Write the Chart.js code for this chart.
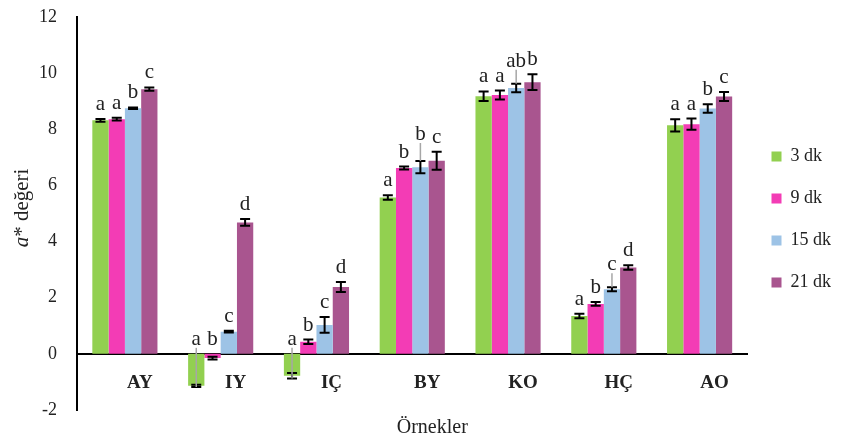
<!DOCTYPE html>
<html>
<head>
<meta charset="utf-8">
<script src="https://cdn.jsdelivr.net/npm/chart.js@4.4.1/dist/chart.umd.min.js"></script>
<style>
  html, body { margin: 0; padding: 0; background: #fff; }
  #wrap { width: 843px; height: 442px; }
</style>
</head>
<body>
<div id="wrap"><canvas id="chart"></canvas></div>
<script>
const categories = ['AY', 'IY', 'IÇ', 'BY', 'KO', 'HÇ', 'AO'];
const seriesNames = ['3 dk', '9 dk', '15 dk', '21 dk'];
const yTicks = [-2, 0, 2, 4, 6, 8, 10, 12];

const dk3 = [8.32, -1.14, -0.78, 5.57, 9.18, 1.35, 8.14];
const dk9 = [8.36, -0.15, 0.43, 6.62, 9.22, 1.78, 8.18];
const dk15 = [8.75, 0.79, 1.03, 6.65, 9.47, 2.30, 8.74];
const dk21 = [9.43, 4.68, 2.38, 6.88, 9.68, 3.08, 9.17];

const err3 = [0.05, 0.04, 0.10, 0.08, 0.17, 0.08, 0.22];
const err9 = [0.05, 0.05, 0.08, 0.05, 0.16, 0.07, 0.20];
const err15 = [0.03, 0.03, 0.28, 0.22, 0.15, 0.07, 0.15];
const err21 = [0.06, 0.12, 0.18, 0.32, 0.28, 0.08, 0.16];

const let3 = ['a', 'a', 'a', 'a', 'a', 'a', 'a'];
const let9 = ['a', 'b', 'b', 'b', 'a', 'b', 'a'];
const let15 = ['b', 'c', 'c', 'b', 'ab', 'c', 'b'];
const let21 = ['c', 'd', 'd', 'c', 'b', 'd', 'c'];

const colors = ['#92d050', '#f33cb5', '#9dc3e6', '#a9558f'];
const values = [dk3, dk9, dk15, dk21];
const errors = [err3, err9, err15, err21];
const letters = [let3, let9, let15, let21];

// labels Excel pushed up to avoid overlapping, drawn with a grey leader line
const lifted = { '2-3': 12, '2-4': 8, '2-5': 8 };

const serif = '"Liberation Serif", "Times New Roman", serif';

const errorBars = {
  id: 'errorBars',
  afterDatasetsDraw(chart) {
    const ctx = chart.ctx;
    const y = chart.scales.y;
    const zero = y.getPixelForValue(0);
    ctx.save();
    chart.data.datasets.forEach((ds, di) => {
      const meta = chart.getDatasetMeta(di);
      meta.data.forEach((bar, i) => {
        const v = values[di][i];
        const e = errors[di][i];
        const top = y.getPixelForValue(v + e);
        const bot = y.getPixelForValue(v - e);
        ctx.strokeStyle = '#000';
        ctx.lineWidth = 2;
        ctx.beginPath();
        ctx.moveTo(bar.x, top); ctx.lineTo(bar.x, bot);
        ctx.moveTo(bar.x - 5, top); ctx.lineTo(bar.x + 5, top);
        ctx.moveTo(bar.x - 5, bot); ctx.lineTo(bar.x + 5, bot);
        ctx.stroke();

        // significance letter
        const lift = lifted[di + '-' + i] || 0;
        const ly = (v >= 0 ? Math.min(top, bar.y) : zero) - 9 - lift;
        ctx.fillStyle = '#222';
        ctx.font = '21px ' + serif;
        ctx.textAlign = 'center';
        ctx.textBaseline = 'alphabetic';
        ctx.fillText(letters[di][i], bar.x, ly);
        if (lift || v < -0.5) {
          ctx.strokeStyle = '#a6a6a6';
          ctx.lineWidth = 1.5;
          ctx.beginPath();
          ctx.moveTo(bar.x, ly + 3);
          ctx.lineTo(bar.x, v >= 0 ? top : bot);
          ctx.stroke();
        }
      });
    });
    ctx.restore();
  }
};

const axisTitles = {
  id: 'axisTitles',
  afterDraw(chart) {
    const ctx = chart.ctx;
    const area = chart.chartArea;
    ctx.save();
    ctx.fillStyle = '#222';
    ctx.textBaseline = 'middle';
    ctx.font = '20px ' + serif;
    ctx.textAlign = 'center';
    ctx.fillText('Örnekler', area.left + (area.right - area.left) / 2 + 20, 428);

    ctx.translate(22, 208);
    ctx.rotate(-Math.PI / 2);
    ctx.font = 'italic 21px ' + serif;
    const wa = ctx.measureText('a').width;
    ctx.font = '21px ' + serif;
    const wr = ctx.measureText('* değeri').width;
    const x0 = -(wa + wr) / 2;
    ctx.textAlign = 'left';
    ctx.font = 'italic 21px ' + serif;
    ctx.fillText('a', x0, 0);
    ctx.font = '21px ' + serif;
    ctx.fillText('* değeri', x0 + wa, 0);
    ctx.restore();
  }
};

new Chart(document.getElementById('chart'), {
  type: 'bar',
  data: {
    labels: categories,
    datasets: seriesNames.map((name, i) => ({
      label: name,
      data: values[i],
      backgroundColor: colors[i],
      borderWidth: 0,
      categoryPercentage: 0.68,
      barPercentage: 1.0
    }))
  },
  options: {
    responsive: true,
    maintainAspectRatio: false,
    animation: false,
    layout: { padding: { top: 17, bottom: 32, left: 36, right: 2 } },
    plugins: {
      tooltip: { enabled: false },
      legend: {
        position: 'right',
        title: { display: true, text: ' ', font: { size: 10 }, padding: 0 },
        labels: {
          boxWidth: 10,
          boxHeight: 10,
          padding: 24,
          color: '#222',
          font: { family: serif, size: 18 }
        }
      }
    },
    scales: {
      x: {
        position: { y: 0 },
        grid: { display: false, drawTicks: false },
        border: { display: true, color: '#000', width: 2 },
        ticks: {
          color: '#222',
          padding: 18,
          labelOffset: 15,
          font: { family: serif, size: 19, weight: 'bold' }
        }
      },
      y: {
        min: -2,
        max: 12,
        afterBuildTicks(scale) { scale.ticks = yTicks.map(v => ({ value: v })); },
        grid: { display: false, drawTicks: true, tickLength: 17 },
        border: { display: true, color: '#000', width: 2 },
        ticks: {
          color: '#222',
          padding: 3,
          font: { family: serif, size: 18 }
        }
      }
    }
  },
  plugins: [errorBars, axisTitles]
});
</script>
</body>
</html>
